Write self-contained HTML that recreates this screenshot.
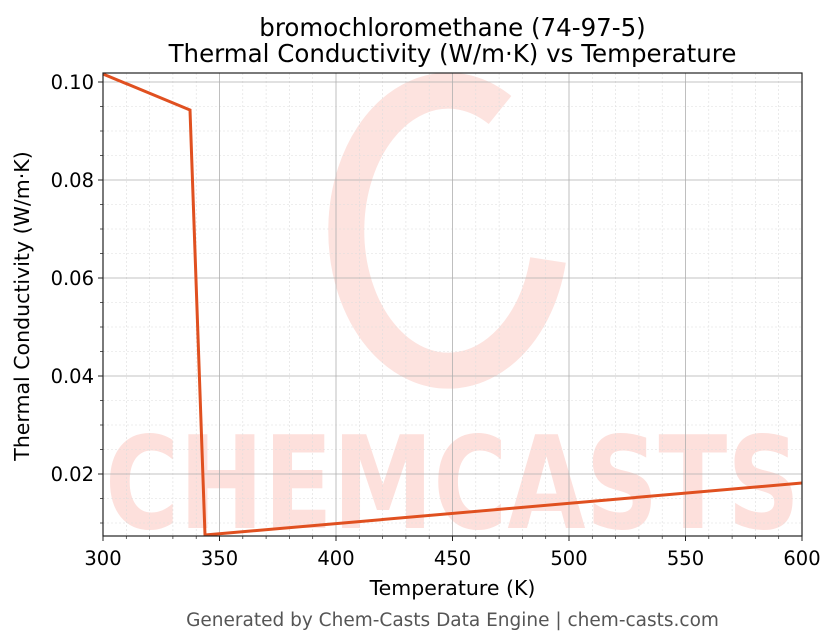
<!DOCTYPE html>
<html><head><meta charset="utf-8"><style>
body{margin:0;background:#fff;}
svg{display:block;font-family:"DejaVu Sans","Liberation Sans",sans-serif;}
</style></head><body>
<svg width="836" height="644" viewBox="0 0 836 644" xmlns="http://www.w3.org/2000/svg">
<rect width="836" height="644" fill="#fff"/>
<defs><clipPath id="c"><rect x="103" y="73" width="699" height="463"/></clipPath></defs>
<g clip-path="url(#c)">
<g>
<path d="M500 110 A102 140 0 1 0 548 260" fill="none" stroke="#fde3df" stroke-width="36"/>
<text x="105" y="528" font-size="128" font-weight="bold" fill="#fde0dc" textLength="695" lengthAdjust="spacingAndGlyphs">CHEMCASTS</text>
</g>
<g stroke="#ddd" stroke-width="0.6" stroke-dasharray="2,2">
<path d="M126.3 73V536M149.6 73V536M172.9 73V536M196.2 73V536M242.8 73V536M266.1 73V536M289.4 73V536M312.7 73V536M359.3 73V536M382.6 73V536M405.9 73V536M429.2 73V536M475.8 73V536M499.1 73V536M522.4 73V536M545.7 73V536M592.3 73V536M615.6 73V536M638.9 73V536M662.2 73V536M708.8 73V536M732.1 73V536M755.4 73V536M778.7 73V536"/>
<path d="M103 106.5H802M103 131H802M103 155.5H802M103 204.5H802M103 229H802M103 253.5H802M103 302.5H802M103 327H802M103 351.5H802M103 400.5H802M103 425H802M103 449.5H802M103 498.5H802M103 523H802"/>
</g>
<g stroke="#b0b0b0" stroke-width="0.8">
<path d="M219.5 73V536M336 73V536M452.5 73V536M569 73V536M685.5 73V536"/>
<path d="M103 82H802M103 180H802M103 278H802M103 376H802M103 474H802"/>
</g>
<polyline points="103,74 190,110 205,535 802,483" fill="none" stroke="#e05020" stroke-width="3" stroke-linejoin="miter"/>
</g>
<rect x="103" y="73" width="699" height="463" fill="none" stroke="#222" stroke-width="1.2"/>
<g stroke="#222" stroke-width="1">
<path d="M103 536v5M219.5 536v5M336 536v5M452.5 536v5M569 536v5M685.5 536v5M802 536v5"/>
<path d="M103 82h-5M103 180h-5M103 278h-5M103 376h-5M103 474h-5"/>
</g>
<g stroke="#222" stroke-width="0.7">
<path d="M126.3 536v3M149.6 536v3M172.9 536v3M196.2 536v3M242.8 536v3M266.1 536v3M289.4 536v3M312.7 536v3M359.3 536v3M382.6 536v3M405.9 536v3M429.2 536v3M475.8 536v3M499.1 536v3M522.4 536v3M545.7 536v3M592.3 536v3M615.6 536v3M638.9 536v3M662.2 536v3M708.8 536v3M732.1 536v3M755.4 536v3M778.7 536v3"/>
<path d="M103 106.5h-3M103 131h-3M103 155.5h-3M103 204.5h-3M103 229h-3M103 253.5h-3M103 302.5h-3M103 327h-3M103 351.5h-3M103 400.5h-3M103 425h-3M103 449.5h-3M103 498.5h-3M103 523h-3"/>
</g>
<g font-size="19.5" fill="#000" text-anchor="middle">
<text x="103" y="565">300</text><text x="219.5" y="565">350</text><text x="336" y="565">400</text><text x="452.5" y="565">450</text><text x="569" y="565">500</text><text x="685.5" y="565">550</text><text x="802" y="565">600</text>
</g>
<g font-size="19.5" fill="#000" text-anchor="end">
<text x="94" y="89">0.10</text><text x="94" y="187">0.08</text><text x="94" y="285">0.06</text><text x="94" y="383">0.04</text><text x="94" y="481">0.02</text>
</g>
<text x="452.5" y="595" font-size="20.5" text-anchor="middle">Temperature (K)</text>
<text transform="translate(29 306) rotate(-90)" font-size="20.5" text-anchor="middle">Thermal Conductivity (W/m·K)</text>
<text x="452.5" y="36" font-size="24.5" text-anchor="middle">bromochloromethane (74-97-5)</text>
<text x="452.5" y="62" font-size="24.5" text-anchor="middle">Thermal Conductivity (W/m·K) vs Temperature</text>
<text x="452.5" y="626" font-size="18.5" fill="#555" text-anchor="middle">Generated by Chem-Casts Data Engine | chem-casts.com</text>
</svg>
</body></html>
